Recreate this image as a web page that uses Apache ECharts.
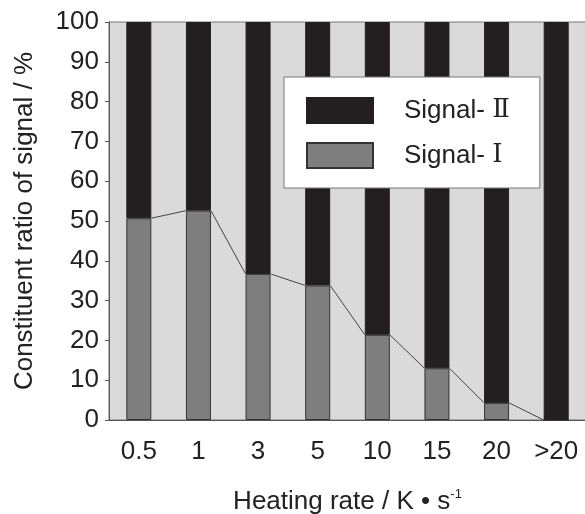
<!DOCTYPE html>
<html>
<head>
    <meta charset="utf-8">
    <title>Constituent ratio of signal</title>
    <script src="https://cdn.jsdelivr.net/npm/echarts@6/dist/echarts.min.js"></script>
</head>
<style>
    body { margin: 0; background: #fff; }
    #main { width: 585px; height: 514px; }
</style>
<body>
<div id="main"></div>
<script type="text/javascript">
    // heating rate categories
    var rates = ['0.5', '1', '3', '5', '10', '15', '20', '>20'];
    // constituent ratios (%)
    var signal1 = [50.7, 52.6, 36.7, 33.8, 21.4, 13.0, 4.3, 0];
    var signal2 = [49.3, 47.4, 63.3, 66.2, 78.6, 87.0, 95.7, 100];
    var yTicks = [0, 10, 20, 30, 40, 50, 60, 70, 80, 90, 100];

    var BAR_W = 25;
    var font = 'Liberation Sans, Arial, sans-serif';
    var roman = 'DejaVu Serif, Liberation Serif, serif';

    // segments joining the tops of the Signal-I bars
    var links = [];
    for (var i = 0; i < signal1.length - 1; i++) {
        links.push([i, signal1[i], signal1[i + 1]]);
    }

    var myChart = echarts.init(document.getElementById('main'));
    var option = {
        animation: false,
        textStyle: { fontFamily: font },
        grid: {
            left: 109, right: -1, top: 22, bottom: 94,
            outerBoundsMode: 'none',
            show: true,
            backgroundColor: '#dadada',
            borderColor: '#777',
            borderWidth: 1
        },
        legend: {
            left: 284, top: 77,
            orient: 'vertical',
            data: ['Signal- Ⅱ', 'Signal- Ⅰ'],
            formatter: function (name) {
                var parts = name.split(' ');
                return '{a|' + parts[0] + ' }{b|' + parts[1] + '}';
            },
            backgroundColor: '#fff',
            borderColor: '#777',
            borderWidth: 1,
            padding: [20, 30, 19, 22],
            itemGap: 18,
            itemWidth: 66,
            itemHeight: 25,
            icon: 'rect',
            selectedMode: false,
            textStyle: {
                color: '#222',
                padding: [0, 0, 0, 26],
                rich: {
                    a: { fontSize: 26, color: '#222', fontFamily: font },
                    b: { fontSize: 26, color: '#222', fontFamily: roman }
                }
            }
        },
        xAxis: {
            type: 'category',
            data: rates,
            axisLine: { lineStyle: { color: '#555', width: 1 } },
            axisTick: { show: false },
            axisLabel: { fontSize: 26, color: '#222', margin: 19, interval: 0 },
            name: '{a|Heating rate / K • s}{b|-1}',
            nameLocation: 'middle',
            nameGap: 68,
            nameTextStyle: {
                rich: {
                    a: { fontSize: 26, color: '#222', fontFamily: font },
                    b: { fontSize: 13, color: '#222', fontFamily: font, verticalAlign: 'top', padding: [0, 0, 14, 0] }
                }
            }
        },
        yAxis: {
            type: 'value',
            min: yTicks[0], max: yTicks[yTicks.length - 1], interval: 10,
            splitLine: { show: false },
            axisLine: { show: true, lineStyle: { color: '#555', width: 1 } },
            axisTick: { show: true, length: 4, lineStyle: { color: '#555' } },
            axisLabel: { fontSize: 26, color: '#222', margin: 10 },
            name: 'Constituent ratio of signal / %',
            nameLocation: 'middle',
            nameGap: 71,
            nameTextStyle: { fontSize: 26, color: '#222' }
        },
        series: [
            {
                name: 'Signal- Ⅰ',
                type: 'bar',
                stack: 'r',
                barWidth: BAR_W,
                data: signal1,
                itemStyle: { color: '#7e7e7e', borderColor: '#333', borderWidth: 1 }
            },
            {
                name: 'Signal- Ⅱ',
                type: 'bar',
                stack: 'r',
                barWidth: BAR_W,
                data: signal2,
                itemStyle: { color: '#231f20', borderColor: '#231f20', borderWidth: 1 }
            },
            {
                type: 'custom',
                z: 5,
                data: links,
                encode: { x: 0, y: 1 },
                renderItem: function (params, api) {
                    var i = api.value(0);
                    var p1 = api.coord([i, api.value(1)]);
                    var p2 = api.coord([i + 1, api.value(2)]);
                    return {
                        type: 'line',
                        shape: { x1: p1[0] + BAR_W / 2, y1: p1[1], x2: p2[0] - BAR_W / 2, y2: p2[1] },
                        style: { stroke: '#444', lineWidth: 1 }
                    };
                }
            }
        ]
    };
    myChart.setOption(option);
</script>
</body>
</html>
